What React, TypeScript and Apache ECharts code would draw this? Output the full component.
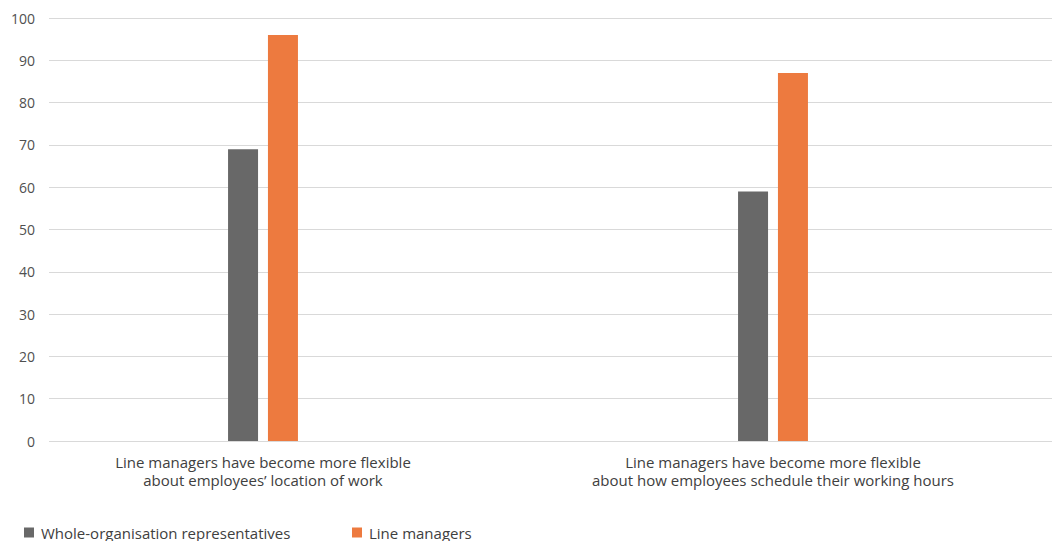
import React, { useEffect, useRef } from "react";
import * as echarts from "echarts";

const categories = [
  "Line managers have become more flexible\nabout employees\u2019 location of work",
  "Line managers have become more flexible\nabout how employees schedule their working hours",
];
const seriesNames = ["Whole-organisation representatives", "Line managers"];
const wholeOrgValues = [69, 59];
const lineManagerValues = [96, 87];
const yTicks = { min: 0, max: 100, interval: 10 };

const FONT = "'Open Sans', Lato, sans-serif";

export default function App() {
  const ref = useRef<HTMLDivElement>(null);
  useEffect(() => {
    if (!ref.current) return;
    const chart = echarts.init(ref.current, undefined, { renderer: "svg" });
    chart.setOption({
      animation: false,
      backgroundColor: "#ffffff",
      textStyle: { fontFamily: FONT },
      grid: [
        { left: 49, right: 0, top: 18, bottom: 100 },
        { left: 8, right: 24, top: 18, bottom: 100 },
      ],
      legend: [
        {
          data: [seriesNames[0]],
          left: 19,
          top: 520,
          itemWidth: 10,
          itemHeight: 10,
          icon: "rect",
          textStyle: { fontFamily: FONT, fontSize: 15, color: "#404040", padding: [0, 0, 0, 2] },
        },
        {
          data: [seriesNames[1]],
          left: 347,
          top: 520,
          itemWidth: 10,
          itemHeight: 10,
          icon: "rect",
          textStyle: { fontFamily: FONT, fontSize: 15, color: "#404040", padding: [0, 0, 0, 2] },
        },
      ],
      xAxis: [
        { type: "category", gridIndex: 0, data: categories, show: false },
        {
          type: "category",
          gridIndex: 1,
          data: categories,
          axisLine: { show: false },
          axisTick: { show: false },
          axisLabel: {
            margin: 12,
            fontFamily: FONT,
            fontSize: 15,
            lineHeight: 18,
            color: "#404040",
            align: "center",
          },
        },
      ],
      yAxis: [
        {
          type: "value",
          gridIndex: 0,
          min: yTicks.min,
          max: yTicks.max,
          interval: yTicks.interval,
          axisLine: { show: false },
          axisTick: { show: false },
          axisLabel: { margin: 14, fontFamily: FONT, fontSize: 14, color: "#505050" },
          splitLine: { lineStyle: { color: "#d9d9d9", width: 1 } },
        },
        {
          type: "value",
          gridIndex: 1,
          min: yTicks.min,
          max: yTicks.max,
          interval: yTicks.interval,
          show: false,
          splitLine: { show: false },
        },
      ],
      series: [
        {
          name: seriesNames[0],
          type: "bar",
          xAxisIndex: 1,
          yAxisIndex: 1,
          data: wholeOrgValues,
          barWidth: 30,
          barGap: "33%",
          itemStyle: { color: "#686868" },
        },
        {
          name: seriesNames[1],
          type: "bar",
          xAxisIndex: 1,
          yAxisIndex: 1,
          data: lineManagerValues,
          barWidth: 30,
          barGap: "33%",
          itemStyle: { color: "#ED7A3F" },
        },
      ],
    });
    return () => chart.dispose();
  }, []);
  return <div ref={ref} style={{ width: 1052, height: 541, position: "absolute", left: 0, top: 0 }} />;
}
